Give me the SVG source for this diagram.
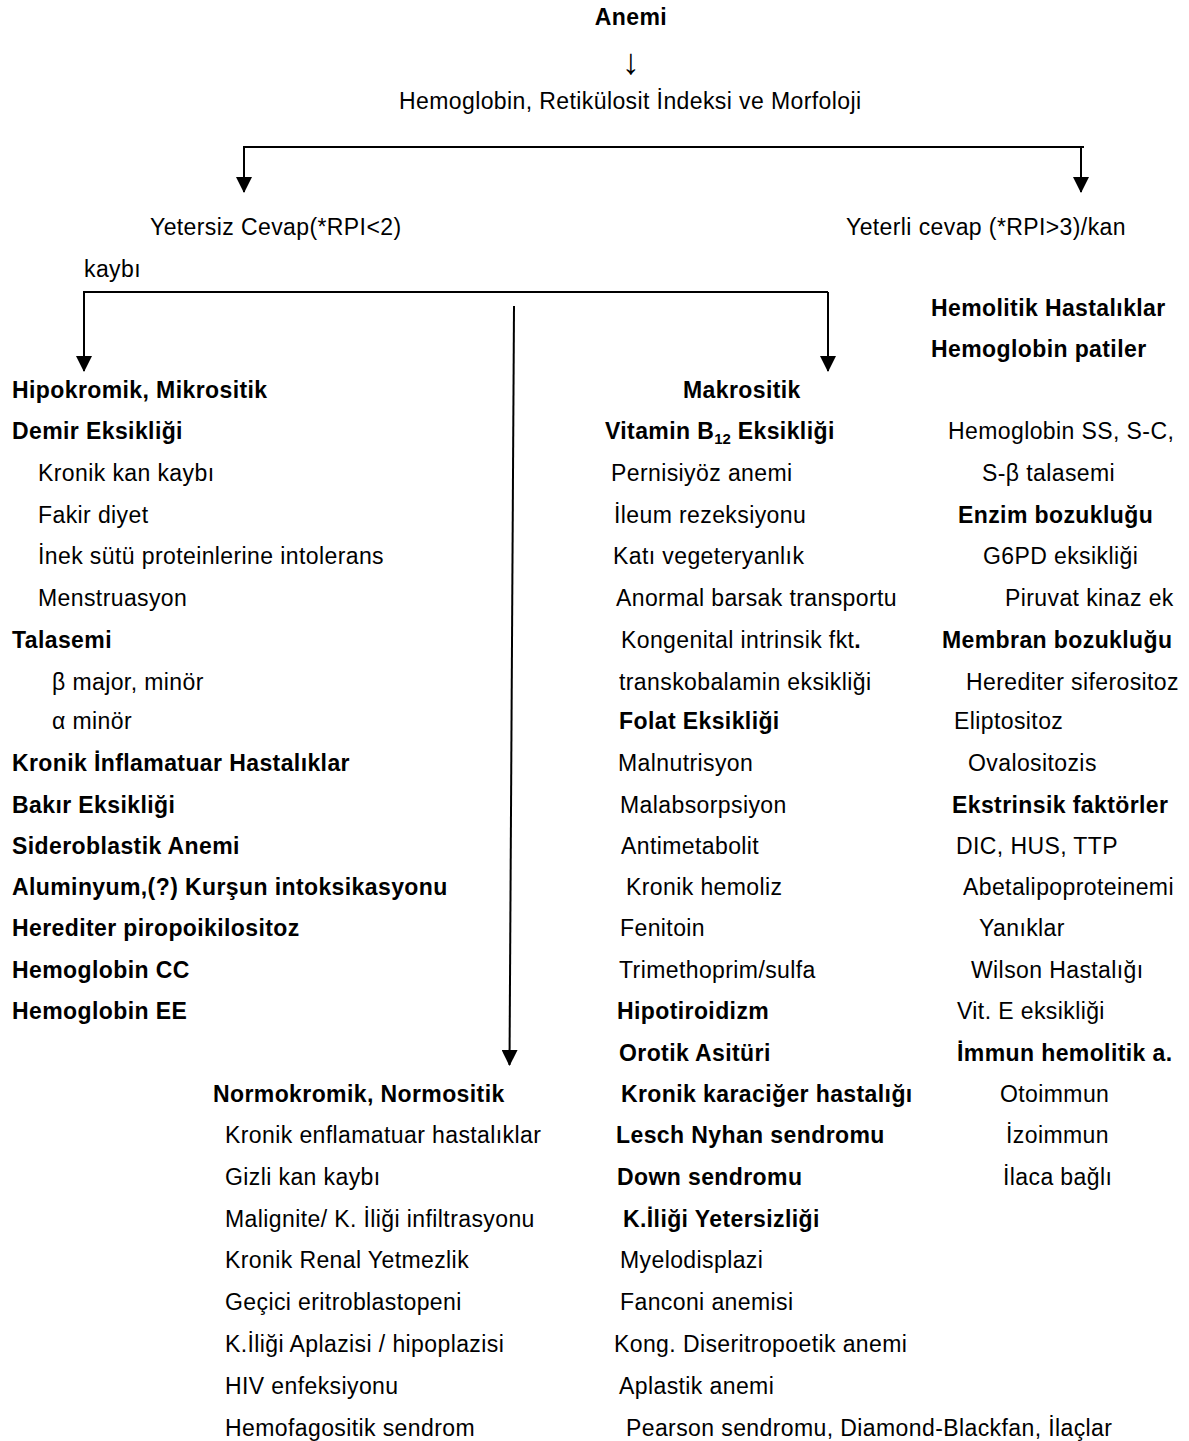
<svg xmlns="http://www.w3.org/2000/svg" width="1189" height="1441" viewBox="0 0 1189 1441">
<style>
text{font-family:"Liberation Sans",Arial,sans-serif;font-size:23px;letter-spacing:0.4px;fill:#000}
.b{font-weight:bold}
.c{text-anchor:middle}
.ln{stroke:#000;stroke-width:2;fill:none}
</style>
<defs>
<marker id="ad" markerUnits="userSpaceOnUse" markerWidth="16" markerHeight="16" viewBox="0 0 16 16" refX="15" refY="8" orient="auto">
<path d="M0,0 L16,8 L0,16 Z" fill="#000"/>
</marker>
</defs>
<g id="connectors">
<path class="ln" d="M1084,147 L244,147 L244,192" marker-end="url(#ad)"/>
<path class="ln" d="M1081,147 L1081,192" marker-end="url(#ad)"/>
<path class="ln" d="M828,292 L84,292 L84,371" marker-end="url(#ad)"/>
<path class="ln" d="M828,292 L828,371" marker-end="url(#ad)"/>
<path class="ln" d="M514,306 L509.5,1065" marker-end="url(#ad)"/>
</g>
<g id="anemi"><text class="b c" x="631" y="25">Anemi</text></g>
<g id="arrow-glyph"><text class="c" x="631" y="74" style="font-size:36px;letter-spacing:0">↓</text></g>
<g id="hemoglobin"><text x="399" y="109">Hemoglobin, Retikülosit İndeksi ve Morfoloji</text></g>
<g id="yetersiz">
<text x="150" y="235">Yetersiz Cevap(*RPI&lt;2)</text>
<text x="84" y="277">kaybı</text>
</g>
<g id="yeterli"><text x="846" y="235">Yeterli cevap (*RPI&gt;3)/kan</text></g>
<g id="hipokromik">
<text class="b" x="12" y="398">Hipokromik, Mikrositik</text>
<text class="b" x="12" y="439">Demir Eksikliği</text>
<text x="38" y="481">Kronik kan kaybı</text>
<text x="38" y="523">Fakir diyet</text>
<text x="38" y="564">İnek sütü proteinlerine intolerans</text>
<text x="38" y="606">Menstruasyon</text>
<text class="b" x="12" y="648">Talasemi</text>
<text x="52" y="690">β major, minör</text>
<text x="52" y="729">α minör</text>
<text class="b" x="12" y="771">Kronik İnflamatuar Hastalıklar</text>
<text class="b" x="12" y="813">Bakır Eksikliği</text>
<text class="b" x="12" y="854">Sideroblastik Anemi</text>
<text class="b" x="12" y="895">Aluminyum,(?) Kurşun intoksikasyonu</text>
<text class="b" x="12" y="936">Herediter piropoikilositoz</text>
<text class="b" x="12" y="978">Hemoglobin CC</text>
<text class="b" x="12" y="1019">Hemoglobin EE</text>
</g>
<g id="makrositik">
<text class="b" x="683" y="398">Makrositik</text>
<text class="b" x="605" y="439">Vitamin B<tspan font-size="15" dy="5" letter-spacing="0">12</tspan><tspan dy="-5"> Eksikliği</tspan></text>
<text x="611" y="481">Pernisiyöz anemi</text>
<text x="614" y="523">İleum rezeksiyonu</text>
<text x="613" y="564">Katı vegeteryanlık</text>
<text x="616" y="606">Anormal barsak transportu</text>
<text x="621" y="648">Kongenital intrinsik fkt<tspan class="b">.</tspan></text>
<text x="619" y="690">transkobalamin eksikliği</text>
<text class="b" x="619" y="729">Folat Eksikliği</text>
<text x="618" y="771">Malnutrisyon</text>
<text x="620" y="813">Malabsorpsiyon</text>
<text x="621" y="854">Antimetabolit</text>
<text x="626" y="895">Kronik hemoliz</text>
<text x="620" y="936">Fenitoin</text>
<text x="619" y="978">Trimethoprim/sulfa</text>
<text class="b" x="617" y="1019">Hipotiroidizm</text>
<text class="b" x="619" y="1061">Orotik Asitüri</text>
<text class="b" x="621" y="1102">Kronik karaciğer hastalığı</text>
<text class="b" x="616" y="1143">Lesch Nyhan sendromu</text>
<text class="b" x="617" y="1185">Down sendromu</text>
<text class="b" x="623" y="1227">K.İliği Yetersizliği</text>
<text x="620" y="1268">Myelodisplazi</text>
<text x="620" y="1310">Fanconi anemisi</text>
<text x="614" y="1352">Kong. Diseritropoetik anemi</text>
<text x="619" y="1394">Aplastik anemi</text>
<text x="626" y="1436">Pearson sendromu, Diamond-Blackfan, İlaçlar</text>
</g>
<g id="normokromik">
<text class="b" x="213" y="1102">Normokromik, Normositik</text>
<text x="225" y="1143">Kronik enflamatuar hastalıklar</text>
<text x="225" y="1185">Gizli kan kaybı</text>
<text x="225" y="1227">Malignite/ K. İliği infiltrasyonu</text>
<text x="225" y="1268">Kronik Renal Yetmezlik</text>
<text x="225" y="1310">Geçici eritroblastopeni</text>
<text x="225" y="1352">K.İliği Aplazisi / hipoplazisi</text>
<text x="225" y="1394">HIV enfeksiyonu</text>
<text x="225" y="1436">Hemofagositik sendrom</text>
</g>
<g id="hemolitik">
<text class="b" x="931" y="316">Hemolitik Hastalıklar</text>
<text class="b" x="931" y="357">Hemoglobin patiler</text>
<text x="948" y="439">Hemoglobin SS, S-C,</text>
<text x="982" y="481">S-β talasemi</text>
<text class="b" x="958" y="523">Enzim bozukluğu</text>
<text x="983" y="564">G6PD eksikliği</text>
<text x="1005" y="606">Piruvat kinaz ek</text>
<text class="b" x="942" y="648">Membran bozukluğu</text>
<text x="966" y="690">Herediter siferositoz</text>
<text x="954" y="729">Eliptositoz</text>
<text x="968" y="771">Ovalositozis</text>
<text class="b" x="952" y="813">Ekstrinsik faktörler</text>
<text x="956" y="854">DIC, HUS, TTP</text>
<text x="963" y="895">Abetalipoproteinemi</text>
<text x="979" y="936">Yanıklar</text>
<text x="971" y="978">Wilson Hastalığı</text>
<text x="957" y="1019">Vit. E eksikliği</text>
<text class="b" x="957" y="1061">İmmun hemolitik a.</text>
<text x="1000" y="1102">Otoimmun</text>
<text x="1006" y="1143">İzoimmun</text>
<text x="1003" y="1185">İlaca bağlı</text>
</g>
</svg>
